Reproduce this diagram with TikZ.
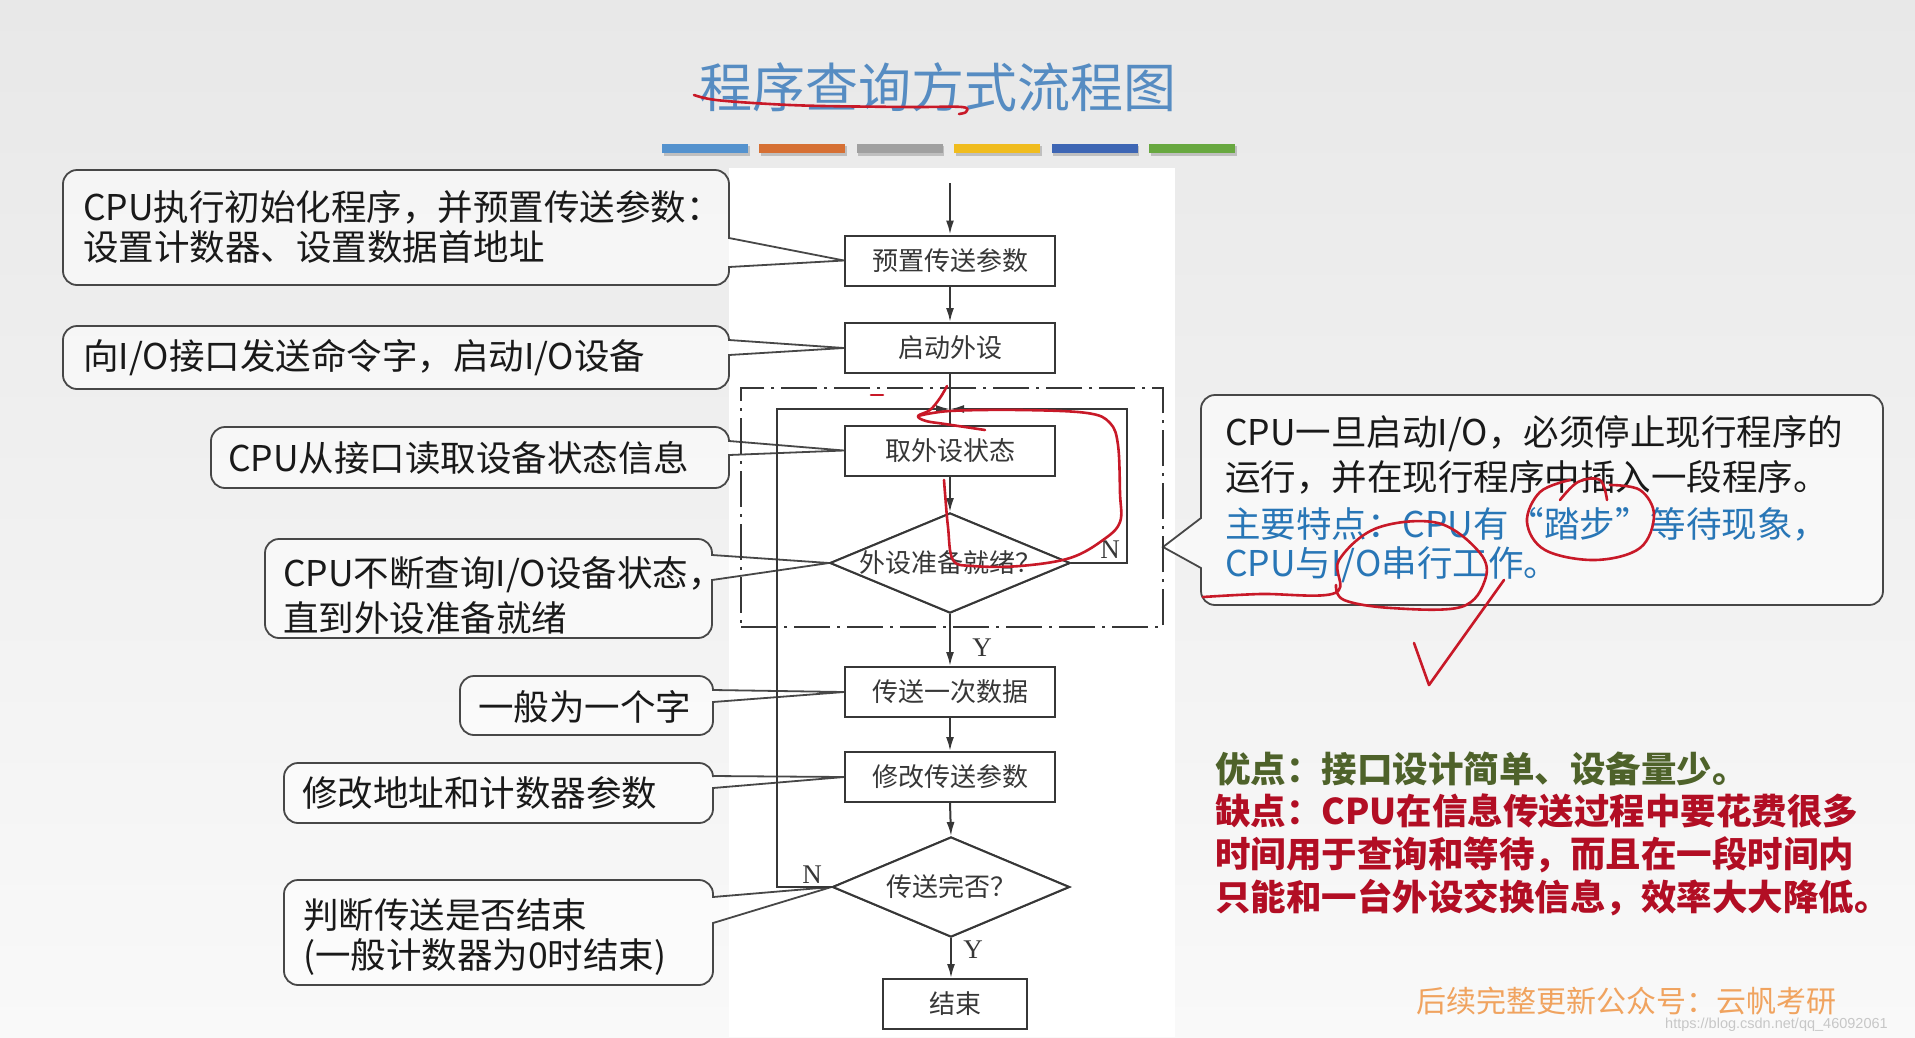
\documentclass[tikz,border=0pt]{standalone}
\usepackage{fontspec}
\setmainfont{Noto Sans CJK SC}
\newfontfamily\serifl{Liberation Serif}
\newfontfamily\urlfont{Liberation Sans}
\usetikzlibrary{arrows.meta,shapes.geometric}
\definecolor{bgtop}{RGB}{232,232,232}
\definecolor{bgbot}{RGB}{249,249,249}
\definecolor{titleblue}{RGB}{86,140,194}
\definecolor{barA}{RGB}{84,146,206}
\definecolor{barB}{RGB}{214,112,52}
\definecolor{barC}{RGB}{160,160,160}
\definecolor{barD}{RGB}{240,188,30}
\definecolor{barE}{RGB}{62,102,180}
\definecolor{barF}{RGB}{104,168,64}
\definecolor{inkred}{RGB}{200,25,40}
\definecolor{txtblue}{RGB}{40,118,182}
\definecolor{txtgreen}{RGB}{78,98,42}
\definecolor{txtred}{RGB}{178,14,36}
\definecolor{wmorange}{RGB}{240,163,95}
\definecolor{flowgray}{RGB}{55,55,55}
\newcommand\callbox[7]{%
  \filldraw[cbox] (#3,#5) [rounded corners=14pt] -- (#3,#2) -- (#1,#2) -- (#1,#4) -- (#3,#4) [sharp corners] -- (#3,#6) -- (#7) -- cycle;}
\begin{document}
\begin{tikzpicture}[x=1pt,y=-1pt,
  fbox/.style={draw=flowgray,line width=2pt,fill=white,minimum width=210pt,minimum height=50pt,inner sep=0pt,font=\fontsize{26}{30}\selectfont,text=flowgray},
  dia/.style={draw=flowgray,line width=2pt,fill=white,diamond,minimum width=240pt,minimum height=100pt,inner sep=0pt},
  ftext/.style={font=\fontsize{26}{30}\selectfont,text=flowgray,inner sep=0pt},
  yn/.style={font=\serifl\fontsize{27}{30}\selectfont,text=flowgray,inner sep=0pt},
  arr/.style={line width=2pt,draw=flowgray,-{Latex[length=14pt,width=8pt]}},
  fl/.style={line width=2pt,draw=flowgray},
  cbox/.style={draw=black!72,line width=1.8pt,fill=white,fill opacity=0.55},
  ctext/.style={font=\fontsize{35.5}{40}\selectfont,text=black!90,inner sep=0pt,anchor=west},
  ink/.style={draw=inkred,line width=2.6pt,line cap=round,line join=round}
]
\useasboundingbox (0,0) rectangle (1915,1037);
% background
\shade[top color=bgtop,bottom color=bgbot] (0,0) rectangle (1915,1037);
\fill[white] (729,168) rectangle (1175,1037);
% title
\node[font=\fontsize{53}{60}\selectfont,text=titleblue,inner sep=0pt] (title) at (938,87) {程序查询方式流程图};
% bars
\foreach \c [count=\i from 0] in {barA,barB,barC,barD,barE,barF}{
  \fill[black!25] ({662+97.4*\i+1.5},146) rectangle ({748+97.4*\i+1.5},155.5);
  \fill[\c] ({662+97.4*\i},144) rectangle ({748+97.4*\i},153);
}
% flowchart nodes
\coordinate (start) at (950,183);
\node[fbox] (b1) at (950,260.5) {预置传送参数};
\node[fbox] (b2) at (950,348) {启动外设};
\node[fbox] (b3) at (950,450.5) {取外设状态};
\node[dia] (d1) at (950,563) {};
\node[fbox] (b4) at (950,692) {传送一次数据};
\node[fbox] (b5) at (950,777) {修改传送参数};
\node[dia,minimum width=237pt] (d2) at (951,887) {};
\node[fbox,minimum width=144pt] (b6) at (955,1004) {结束};
\coordinate (m) at (950,409);
\coordinate (rtop) at (1127,409);
\coordinate (ltop) at (777,409);
\coordinate (rtip) at (1163,547);
% callouts
\callbox{63}{170}{729}{285}{238}{267}{b1.west}
\callbox{63}{326}{729}{389}{340}{355}{b2.west}
\callbox{211}{427}{729}{488}{441}{455}{b3.west}
\callbox{265}{539}{712}{638}{555}{580}{d1.west}
\callbox{460}{676}{713}{735}{690}{702}{b4.west}
\callbox{284}{763}{713}{823}{776}{788}{b5.west}
\callbox{284}{880}{713}{985}{897}{923}{d2.west}
\callbox{1883}{395}{1201}{605}{518}{568}{rtip}
% flowchart on top
\node[draw=flowgray,line width=2pt,dash pattern=on 36pt off 7pt on 3pt off 7pt,minimum width=422pt,minimum height=239pt,inner sep=0pt] (loopbox) at (952,507.5) {};
\draw[arr] (start) -- (b1.north);
\draw[arr] (b1.south) -- (b2.north);
\draw[fl] (b2.south) -- (b3.north);
\draw[arr] (b3.south) -- (d1.north);
\draw[arr] (d1.east) -| (rtop) -- (m);
\draw[arr] (d2.west) -| (ltop) -- (m);
\draw[arr] (d1.south) -- (b4.north);
\draw[arr] (b4.south) -- (b5.north);
\draw[arr] (b5.south) -- (d2.north);
\draw[arr] (d2.south) -- (d2.south |- b6.north);
\node[fbox] (b1r) at (b1) {预置传送参数};
\node[fbox] (b2r) at (b2) {启动外设};
\node[fbox] (b3r) at (b3) {取外设状态};
\node[dia] (d1r) at (d1) {};
\node[ftext] (d1t) at (d1) {外设准备就绪？};
\node[fbox] (b4r) at (b4) {传送一次数据};
\node[fbox] (b5r) at (b5) {修改传送参数};
\node[dia,minimum width=237pt] (d2r) at (d2) {};
\node[ftext] (d2t) at (d2) {传送完否？};
\node[fbox,minimum width=144pt] (b6r) at (b6) {结束};
\node[yn] (n1) at (1110,550) {N};
\node[yn] (y1) at (982,648) {Y};
\node[yn] (n2) at (812,875) {N};
\node[yn] (y2) at (973,950) {Y};
% callout texts
\node[ctext] (c1a) at (83,207) {CPU执行初始化程序，并预置传送参数：};
\node[ctext] (c1b) at (83,247) {设置计数器、设置数据首地址};
\node[ctext] (c2) at (83,358) {向I/O接口发送命令字，启动I/O设备};
\node[ctext] (c3) at (228,458) {CPU从接口读取设备状态信息};
\node[ctext] (c4a) at (283,575) {CPU不断查询I/O设备状态，};
\node[ctext] (c4b) at (283,618) {直到外设准备就绪};
\node[ctext] (c5) at (478,707) {一般为一个字};
\node[ctext] (c6) at (302,793) {修改地址和计数器参数};
\node[ctext] (c7a) at (303,915) {判断传送是否结束};
\node[ctext] (c7b) at (303,957) {(一般计数器为0时结束)};
\node[ctext] (r1) at (1225,434) {CPU一旦启动I/O，必须停止现行程序的};
\node[ctext] (r2) at (1225,477) {运行，并在现行程序中插入一段程序。};
\node[ctext,text=txtblue] (r3) at (1225,524) {主要特点：CPU有“踏步”等待现象，};
\node[ctext,text=txtblue] (r4) at (1225,565) {CPU与I/O串行工作。};
\node[ctext,text=txtgreen,font=\fontsize{35.5}{40}\selectfont\bfseries] (g1) at (1215,769) {优点：接口设计简单、设备量少。};
\node[ctext,text=txtred,font=\fontsize{35.5}{40}\selectfont\bfseries] (k1) at (1215,811) {缺点：CPU在信息传送过程中要花费很多};
\node[ctext,text=txtred,font=\fontsize{35.5}{40}\selectfont\bfseries] (k2) at (1215,855) {时间用于查询和等待，而且在一段时间内};
\node[ctext,text=txtred,font=\fontsize{35.5}{40}\selectfont\bfseries] (k3) at (1215,898) {只能和一台外设交换信息，效率大大降低。};
% watermark
\node[anchor=west,inner sep=0pt,text=wmorange,font=\fontsize{30}{34}\selectfont] (wm) at (1416,1001) {后续完整更新公众号：云帆考研};
\node[anchor=west,inner sep=0pt,text=black!22,font=\urlfont\fontsize{14.5}{17}\selectfont] (url) at (1665,1025) {https://blog.csdn.net/qq\_46092061};
% red hand annotations
\draw[ink] plot[smooth,tension=0.6] coordinates {(694,95) (716,100) (770,104) (823,106) (912,107) (962,107) (966,112) (959,114)};
\draw[ink] (871,395) -- (883,395);
\draw[ink] plot[smooth,tension=0.6] coordinates {(947,386) (940,398) (930,410) (918,416) (926,421) (945,424) (985,430)};
\draw[ink] plot[smooth,tension=0.6] coordinates {(918,416) (950,411) (1020,410) (1087,413) (1110,423) (1118,445) (1120,493) (1120,522) (1103,540) (1070,558) (1020,566) (973,566) (953,560) (948,527) (945,493) (944,480)};
\draw[ink] plot[smooth,tension=0.6] coordinates {(1203,597) (1260,594) (1335,593) (1339,560) (1377,528) (1438,523) (1480,553) (1485,580) (1461,607) (1391,608) (1344,600) (1336,585)};
\draw[ink] plot[smooth,tension=0.6] coordinates {(1560,500) (1578,482) (1600,480) (1607,500)};
\draw[ink] plot[smooth,tension=0.6] coordinates {(1610,485) (1640,490) (1654,515) (1640,548) (1595,560) (1545,550) (1527,522) (1540,492) (1570,480)};
\draw[ink] (1414,643) -- (1429,685) -- (1504,580);
\end{tikzpicture}
\end{document}
